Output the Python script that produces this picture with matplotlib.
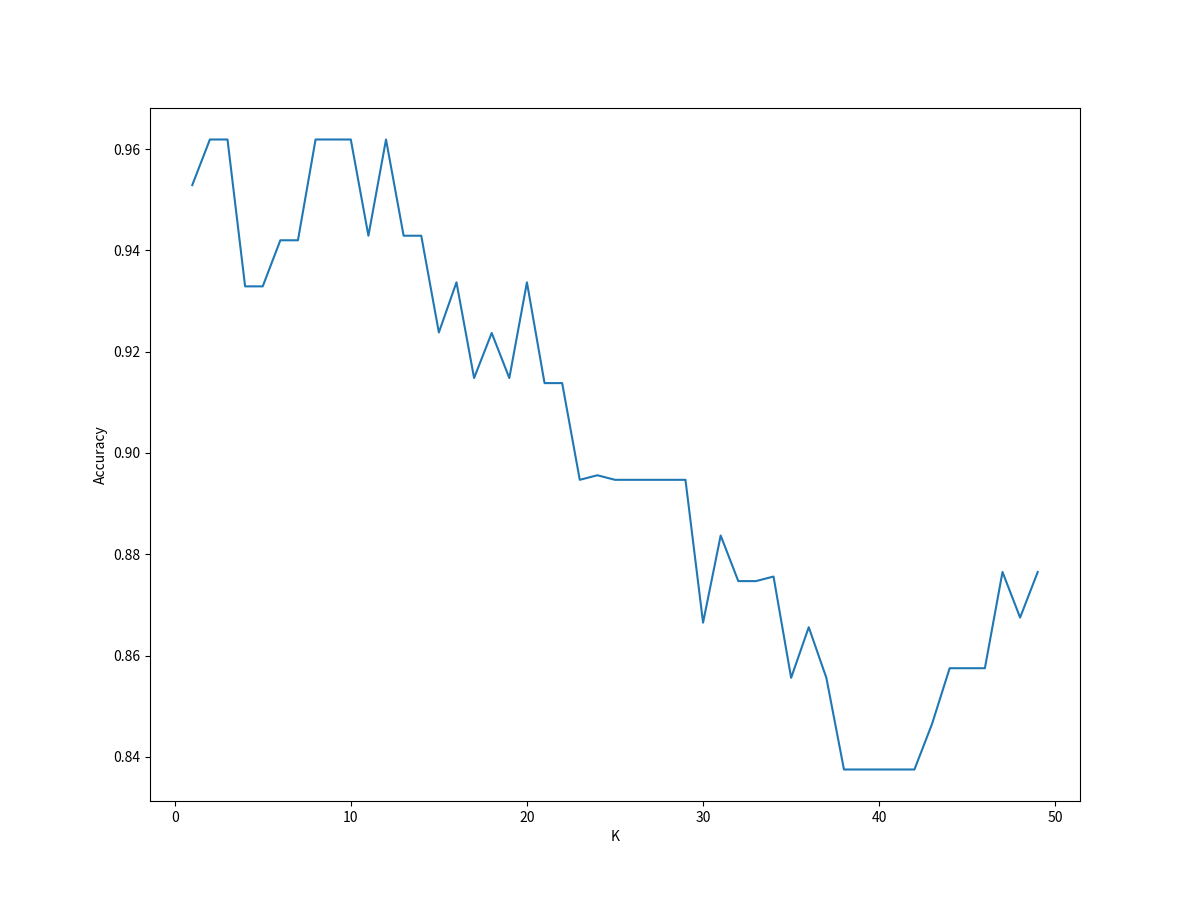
import matplotlib
matplotlib.use('Agg')
import matplotlib.pyplot as plt

plt.rcParams['font.family'] = ['Noto Sans CJK SC', 'DejaVu Sans']
plt.rcParams['axes.unicode_minus'] = False

k_values = list(range(1, 50))
accuracy = [
    0.9529, 0.9619, 0.9619, 0.9329, 0.9329, 0.9420, 0.9420, 0.9619, 0.9619, 0.9619,
    0.9429, 0.9619, 0.9429, 0.9429, 0.9238, 0.9337, 0.9148, 0.9237, 0.9148, 0.9337,
    0.9138, 0.9138, 0.8947, 0.8956, 0.8947, 0.8947, 0.8947, 0.8947, 0.8947, 0.8665,
    0.8837, 0.8747, 0.8747, 0.8756, 0.8556, 0.8656, 0.8556, 0.8375, 0.8375, 0.8375,
    0.8375, 0.8375, 0.8465, 0.8575, 0.8575, 0.8575, 0.8765, 0.8675, 0.8765,
]

fig, ax = plt.subplots(figsize=(12, 9), dpi=100)
ax.plot(k_values, accuracy)
ax.set_xlabel('K')
ax.set_ylabel('Accuracy')

plt.savefig('out.png')
